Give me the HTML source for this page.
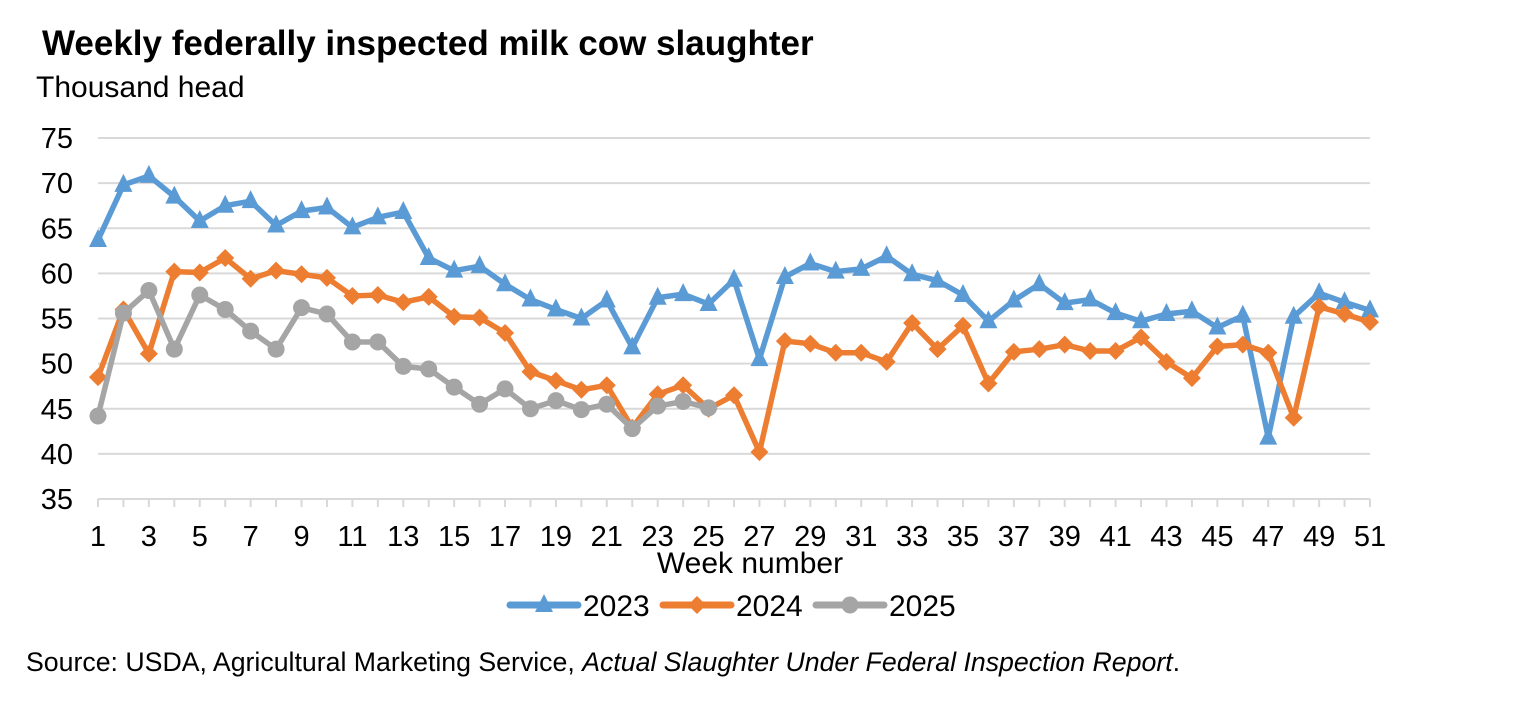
<!DOCTYPE html>
<html><head><meta charset="utf-8"><style>
body{margin:0;background:#fff;width:1518px;height:712px;overflow:hidden;font-family:"Liberation Sans",Arial,sans-serif}
</style></head><body>
<svg id="c" width="1518" height="712" xmlns="http://www.w3.org/2000/svg" font-family="Liberation Sans, Arial, sans-serif">
<text x="42" y="55" font-size="35" font-weight="bold" fill="#000">Weekly federally inspected milk cow slaughter</text>
<text x="36" y="97" font-size="30" fill="#000">Thousand head</text>
<g id="grid"></g><g id="series"></g>
<text x="750" y="573" font-size="30" text-anchor="middle">Week number</text>
<g id="legend"></g>
<text x="26" y="671" font-size="26.7">Source: USDA, Agricultural Marketing Service, <tspan font-style="italic">Actual Slaughter Under Federal Inspection Report</tspan>.</text>
</svg>
<script>
const yTicks=[35,40,45,50,55,60,65,70,75];
const s2023=[63.7,69.8,70.8,68.5,65.8,67.5,68.0,65.3,66.9,67.3,65.1,66.2,66.8,61.7,60.3,60.8,58.8,57.1,56.0,55.0,57.0,51.8,57.3,57.7,56.6,59.3,50.5,59.6,61.1,60.2,60.5,61.9,59.9,59.2,57.6,54.7,57.0,58.8,56.7,57.1,55.6,54.7,55.5,55.8,54.0,55.3,41.8,55.2,57.8,56.8,55.9];
const s2024=[48.5,56.0,51.1,60.2,60.1,61.7,59.4,60.3,59.9,59.5,57.5,57.6,56.8,57.4,55.2,55.1,53.4,49.1,48.1,47.1,47.6,42.9,46.6,47.6,45.0,46.5,40.2,52.5,52.2,51.2,51.2,50.2,54.5,51.6,54.2,47.8,51.3,51.6,52.1,51.4,51.4,52.9,50.2,48.4,51.9,52.1,51.2,44.0,56.3,55.5,54.6];
const s2025=[44.2,55.6,58.1,51.6,57.6,56.0,53.6,51.6,56.2,55.5,52.4,52.4,49.7,49.4,47.4,45.5,47.2,45.0,45.9,44.9,45.5,42.8,45.3,45.8,45.1];
const seriesNames=["2023","2024","2025"];
const NS="http://www.w3.org/2000/svg";
const X0=98,X1=1370,Y0=499,Y1=138;
const xs=w=>X0+(w-1)*(X1-X0)/50;
const ys=v=>Y0-(v-35)*(Y0-Y1)/40;
function mk(t,a,p){const e=document.createElementNS(NS,t);for(const k in a)e.setAttribute(k,a[k]);p.appendChild(e);return e;}
const grid=document.getElementById('grid');
yTicks.forEach(v=>{
 const l=mk('line',{x1:X0,x2:X1,y1:ys(v),y2:ys(v),stroke:'#d9d9d9','stroke-width':2},grid);
 
 
 const t=mk('text',{x:73,y:ys(v)+10,'font-size':29,'text-anchor':'end'},grid);t.textContent=v;
 
 
});
for(let w=1;w<=51;w++){
 mk('line',{x1:xs(w),x2:xs(w),y1:Y0,y2:Y0+8,stroke:'#d9d9d9','stroke-width':2},grid);
 if(w%2==1){const t=mk('text',{x:xs(w),y:546,'font-size':29,'text-anchor':'middle'},grid);t.textContent=w;
 
 }
}
const colors=['#5b9bd5','#ed7d31','#a5a5a5'];
function marker(type,x,y,c,p){
 if(type==0)return mk('polygon',{points:`${x},${y-11} ${x+9},${y+7} ${x-9},${y+7}`,fill:c},p);
 if(type==1)return mk('polygon',{points:`${x},${y-9} ${x+9},${y} ${x},${y+9} ${x-9},${y}`,fill:c},p);
 return mk('circle',{cx:x,cy:y,r:8.5,fill:c},p);
}
const sg=document.getElementById('series');
[s2023,s2024,s2025].forEach((d,i)=>{
 const g=mk('g',{},sg);
 
 
 mk('polyline',{points:d.map((v,j)=>xs(j+1)+','+ys(v)).join(' '),fill:'none',stroke:colors[i],'stroke-width':5.5,'stroke-linejoin':'round'},g);
 d.forEach((v,j)=>{const m=marker(i,xs(j+1),ys(v),colors[i],g);
 
 });
});
const lg=document.getElementById('legend');
const lx=[510,663,816];
seriesNames.forEach((n,i)=>{
 const g=mk('g',{},lg);
 
 
 mk('line',{x1:lx[i],x2:lx[i]+68,y1:605,y2:605,stroke:colors[i],'stroke-width':7,'stroke-linecap':'round'},g);
 marker(i,lx[i]+34,605,colors[i],g);
 const t=mk('text',{x:lx[i]+73,y:616,'font-size':30},g);t.textContent=n;
});
</script>
</body></html>
